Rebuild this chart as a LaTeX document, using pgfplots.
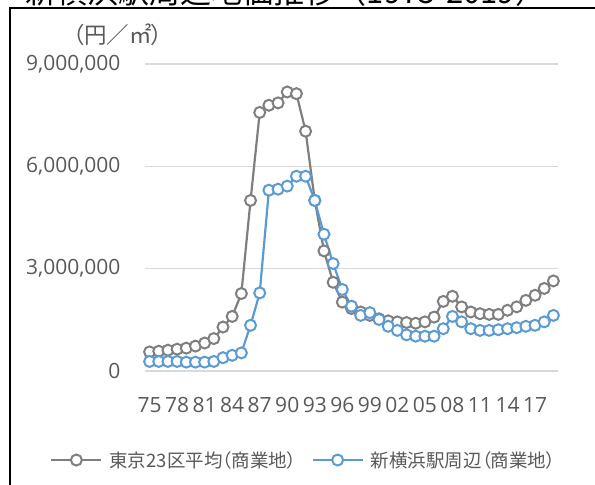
\documentclass[border=0pt]{standalone}
\usepackage{fontspec}
\setmainfont{Noto Sans CJK JP}
\newfontfamily\pfont[RawFeature=+palt]{Noto Sans CJK JP}
\newfontfamily\ofont{Open Sans}
\usepackage{pgfplots}
\pgfplotsset{compat=1.18}
\definecolor{cgray}{HTML}{7F7F7F}
\definecolor{cblue}{HTML}{5B9BD5}
\definecolor{cgrid}{HTML}{D9D9D9}
\definecolor{ctext}{HTML}{595959}
\pgfplotstableread{
i tokyo shin
0 560000 280000
1 580000 280000
2 610000 280000
3 640000 280000
4 670000 260000
5 730000 260000
6 820000 260000
7 950000 280000
8 1290000 390000
9 1600000 460000
10 2270000 530000
11 5000000 1340000
12 7580000 2290000
13 7790000 5300000
14 7860000 5330000
15 8180000 5420000
16 8130000 5710000
17 7030000 5710000
18 5000000 5000000
19 3520000 4010000
20 2600000 3150000
21 2020000 2390000
22 1830000 1900000
23 1730000 1630000
24 1630000 1710000
25 1530000 1510000
26 1470000 1310000
27 1440000 1190000
28 1420000 1060000
29 1400000 1020000
30 1440000 1020000
31 1580000 1020000
32 2040000 1240000
33 2190000 1600000
34 1880000 1440000
35 1730000 1240000
36 1680000 1190000
37 1660000 1190000
38 1660000 1210000
39 1780000 1240000
40 1880000 1270000
41 2070000 1310000
42 2220000 1340000
43 2420000 1440000
44 2640000 1630000
}\datatable
\begin{document}
\begin{tikzpicture}
\useasboundingbox (0pt,0pt) rectangle (595pt,485pt);
\node[anchor=base, font=\fontsize{31}{33}\selectfont] at (286pt,481.5pt) {新横浜駅周辺地価推移（1975-2019）};
\draw[black, line width=2pt] (10pt,-5pt) -- (10pt,477pt) -- (600pt,477pt);
\node[text=ctext, font=\pfont\fontsize{22.5}{24}\selectfont] at (118pt,450pt) {（円／㎡）};
\begin{axis}[
  at={(145pt,114pt)}, anchor=south west,
  width=413pt, height=307pt, scale only axis,
  xmin=-0.5, xmax=44.5, ymin=0, ymax=9000000,
  axis line style={draw=none},
  major tick length=0pt,
  xtick={0,3,...,42},
  xticklabels={75,78,81,84,87,90,93,96,99,02,05,08,11,14,17},
  ytick={0,3000000,6000000,9000000},
  scaled y ticks=false,
  /pgf/number format/fixed,
  /pgf/number format/1000 sep={,},
  /pgf/number format/assume math mode=true,
  tick label style={text=ctext, font=\ofont\fontsize{21}{23}\selectfont},
  yticklabel style={anchor=east, xshift=-21pt},
  xticklabel style={anchor=north, yshift=-23pt},
  ymajorgrids, grid style={cgrid, line width=1.5pt},
  legend columns=2,
  legend style={draw=none, fill=none, at={(0.385,-0.29)}, anchor=center,
    font=\pfont\fontsize{18.5}{20}\selectfont, text=ctext,
    /tikz/every odd column/.append style={column sep=5pt},
    /tikz/every even column/.append style={column sep=13pt}},
  legend image code/.code={\draw[mark repeat=2,mark phase=2,#1] plot coordinates {(0pt,0pt) (25pt,0pt) (50pt,0pt)};},
  clip=false,
]
\addplot[cgray, line width=2.2pt, mark=*, mark size=5.5pt, mark options={fill=white, line width=2pt}] table[x=i, y=tokyo] {\datatable};
\addlegendentry{東京23区平均（商業地）}
\addplot[cblue, line width=2.2pt, mark=*, mark size=5.5pt, mark options={fill=white, line width=2pt}] table[x=i, y=shin] {\datatable};
\addlegendentry{新横浜駅周辺（商業地）}
\end{axis}
\end{tikzpicture}
\end{document}
